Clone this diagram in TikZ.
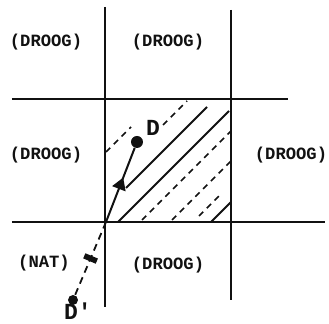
\documentclass[tikz,border=0pt]{standalone}
\usepackage{fontspec}
\setmonofont{Liberation Mono}
\usetikzlibrary{arrows.meta,decorations.markings}
\definecolor{mapink}{HTML}{111111}

\begin{document}
\begin{tikzpicture}[x=0.5pt, y=-0.5pt,
                    every node/.style={mapink, font=\ttfamily\bfseries\fontsize{8.6}{10}\selectfont},
                    grid/.style={mapink, line width=1.4pt},
                    hatchsolid/.style={mapink, line width=0.9pt},
                    hatchdash/.style={mapink, line width=0.8pt, dash pattern=on 3pt off 2.5pt},
                    dot/.style={circle, fill=mapink, inner sep=0pt, minimum size=#1},
                    bigletter/.style={font=\ttfamily\bfseries\fontsize{11.5}{12}\selectfont}]

\useasboundingbox (0,0) rectangle (329,324);

%% ==== 格網: 兩條橫線與兩條直線 ======================================
\draw[grid] (12,99) -- (288,99);
\draw[grid] (12,222) -- (325,222);
\draw[grid] (105,7) -- (105,307);
\draw[grid] (231,10) -- (231,300);

%% ==== 中央方格內的斜線 ==============================================
\draw[hatchdash]  (106,152) -- (131,127);
\draw[hatchdash]  (163,125) -- (187,101);
\draw[hatchsolid] (126,188) -- (207,107);
\draw[hatchsolid] (118,222) -- (229,111);
\draw[hatchdash]  (142,220) -- (231,131);
\draw[hatchdash]  (172,220) -- (231,161);
\draw[hatchdash]  (199,216) -- (222,193);
\draw[hatchsolid] (211,222) -- (231,202);

%% ==== 點 D 與其對稱點 D' ============================================
\coordinate (O) at (106,222);
\node[dot=6pt] (D)  at (137,142) {};
\node[dot=5pt] (Dp) at (73,300) {};

\draw[mapink, line width=1pt,
      decoration={markings, mark=at position 0.6 with {\arrow{Triangle[width=7pt,length=6pt]}}},
      postaction=decorate] (O) -- (D);
\draw[mapink, line width=0.9pt, dash pattern=on 3.5pt off 2.5pt,
      decoration={markings, mark=at position 0.5 with {\fill (-1.4pt,-3.4pt) rectangle (1.4pt,3.4pt);}},
      postaction=decorate] (O) -- (Dp);

\node[bigletter] (lD)  at (153,128) {D};
\node[bigletter] (lDp) at (78,311)  {D'};

%% ==== 各格的名稱 ====================================================
\node (tl) at (46,42)   {(DROOG)};
\node (tm) at (168,42)  {(DROOG)};
\node (ml) at (46,155)  {(DROOG)};
\node (mr) at (291,155) {(DROOG)};
\node (bl) at (44,263)  {(NAT)};
\node (bm) at (168,265) {(DROOG)};

\end{tikzpicture}
\end{document}
